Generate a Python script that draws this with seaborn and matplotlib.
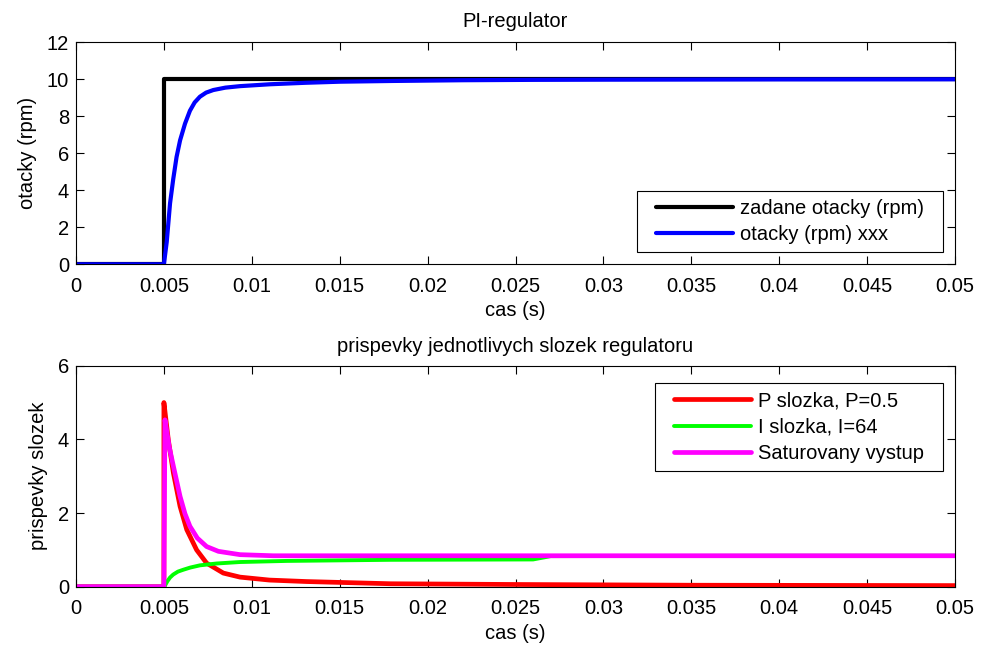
import matplotlib
matplotlib.use("Agg")
import matplotlib.pyplot as plt
import seaborn as sns
import pandas as pd
from matplotlib.patches import Rectangle

# ---- data ----
t_ref = [0.0, 0.005, 0.005, 0.05]
y_ref = [0.0, 0.0, 10.0, 10.0]

t_speed = [0.0, 0.005, 0.00516, 0.00535, 0.00553, 0.00572, 0.00592, 0.0062, 0.00648,
           0.00675, 0.00705, 0.0074, 0.00781, 0.0085, 0.00933, 0.011, 0.013, 0.015,
           0.018, 0.022, 0.026, 0.03, 0.04, 0.05]
y_speed = [0.0, 0.0, 1.2, 3.3, 4.6, 5.8, 6.7, 7.6, 8.3,
           8.75, 9.06, 9.28, 9.42, 9.55, 9.63, 9.73, 9.81, 9.87,
           9.91, 9.95, 9.97, 9.98, 9.995, 10.0]

t_p = [0.0, 0.005, 0.005, 0.00525, 0.00554, 0.00592, 0.0063, 0.00686, 0.00743,
       0.00838, 0.00933, 0.011, 0.0131, 0.0179, 0.025, 0.035, 0.05]
y_p = [0.0, 0.0, 5.0, 3.99, 3.09, 2.18, 1.55, 1.0, 0.64,
       0.37, 0.26, 0.18, 0.14, 0.08, 0.06, 0.04, 0.03]

t_i = [0.0, 0.005, 0.00506, 0.0052, 0.00535, 0.00553, 0.0058, 0.0061, 0.0065, 0.00705,
       0.008, 0.00933, 0.012, 0.0179, 0.026, 0.027, 0.04, 0.05]
y_i = [0.0, 0.0, 0.03, 0.15, 0.25, 0.33, 0.41, 0.46, 0.52, 0.58,
       0.63, 0.67, 0.70, 0.73, 0.74, 0.83, 0.84, 0.84]

t_sat = [0.0, 0.005, 0.00506, 0.0053, 0.00554, 0.00592, 0.0062, 0.00648, 0.0069,
         0.00743, 0.0081, 0.00933, 0.01122, 0.05]
y_sat = [0.0, 0.0, 4.53, 3.8, 3.27, 2.45, 1.98, 1.64, 1.32,
         1.09, 0.96, 0.87, 0.84, 0.84]

x_ticks = [0, 0.005, 0.01, 0.015, 0.02, 0.025, 0.03, 0.035, 0.04, 0.045, 0.05]
x_ticklabels = ["0", "0.005", "0.01", "0.015", "0.02", "0.025", "0.03", "0.035", "0.04", "0.045", "0.05"]
y1_ticks = [0, 2, 4, 6, 8, 10, 12]
y2_ticks = [0, 2, 4, 6]

sns.set_theme(style="white")
plt.rcParams["font.family"] = ["Liberation Sans", "DejaVu Sans"]
plt.rcParams["text.color"] = "black"
plt.rcParams["axes.labelcolor"] = "black"
plt.rcParams["xtick.color"] = "black"
plt.rcParams["ytick.color"] = "black"
plt.rcParams["axes.edgecolor"] = "black"
plt.rcParams["axes.linewidth"] = 0.8

W, H = 985, 652
fig = plt.figure(figsize=(W / 100, H / 100), dpi=100)
ax1 = fig.add_axes([76/W, 1 - 264.3/H, 879/W, 222/H])
ax2 = fig.add_axes([76/W, 1 - 586.7/H, 879/W, 221/H])

FS = 14.5

def draw(ax, t, y, color, label, lw):
    df = pd.DataFrame({"t": t, "y": y})
    sns.lineplot(data=df, x="t", y="y", ax=ax, color=color, lw=lw, label=label,
                 sort=False, estimator=None)

draw(ax1, t_ref, y_ref, "black", "zadane otacky (rpm)", 3.0)
draw(ax1, t_speed, y_speed, "#0000ff", "otacky (rpm) xxx", 3.0)

draw(ax2, t_p, y_p, "#ff0000", "P slozka, P=0.5", 3.4)
draw(ax2, t_i, y_i, "#00ff00", "I slozka, I=64", 2.8)
draw(ax2, t_sat, y_sat, "#ff00ff", "Saturovany vystup", 3.4)

for ax, yt, ylab, title, tpad in [(ax1, y1_ticks, "otacky (rpm)", "PI-regulator", 11),
                                   (ax2, y2_ticks, "prispevky slozek",
                                    "prispevky jednotlivych slozek regulatoru", 10)]:
    ax.set_xlim(0, 0.05)
    ax.set_ylim(min(yt), max(yt))
    ax.set_xticks(x_ticks)
    ax.set_xticklabels(x_ticklabels)
    ax.set_yticks(yt)
    ax.tick_params(direction="in", length=6, width=0.8, color="black",
                   top=True, right=True, bottom=True, left=True,
                   labelsize=FS, labelcolor="black")
    ax.tick_params(axis="x", pad=9)
    ax.tick_params(axis="y", pad=5)
    ax.set_xlabel("cas (s)", fontsize=FS, color="black", labelpad=4)
    ax.set_ylabel(ylab, fontsize=FS, color="black", labelpad=7)
    ax.set_title(title, fontsize=FS, color="black", pad=tpad)
    for s in ax.spines.values():
        s.set_visible(True)
        s.set_color("black")
        s.set_linewidth(0.8)

HPAD = 11  # extra horizontal padding of the legend frame (pixels)
leg_kw = dict(fontsize=FS, frameon=False, labelcolor="black",
              handlelength=3.8, handletextpad=0.35, labelspacing=0.35,
              borderpad=0.4, borderaxespad=0, loc="lower right",
              bbox_transform=fig.transFigure)
leg1 = ax1.legend(bbox_to_anchor=((942.7 - HPAD)/W, 1 - 252.3/H), **leg_kw)
leg2 = ax2.legend(bbox_to_anchor=((942.7 - HPAD)/W, 1 - 470.7/H), **leg_kw)

fig.canvas.draw()
inv = fig.transFigure.inverted()
for ax, leg in ((ax1, leg1), (ax2, leg2)):
    bb = leg.get_window_extent()
    (x0, y0), (x1, y1) = inv.transform([(bb.x0 - HPAD, bb.y0), (bb.x1 + HPAD, bb.y1)])
    rect = Rectangle((x0, y0), x1 - x0, y1 - y0, transform=fig.transFigure,
                     facecolor="white", edgecolor="black", lw=0.8, zorder=4.9)
    fig.add_artist(rect)
    leg.remove()
    fig.add_artist(leg)
    leg.set_zorder(5)

fig.savefig("out.png", dpi=100)
